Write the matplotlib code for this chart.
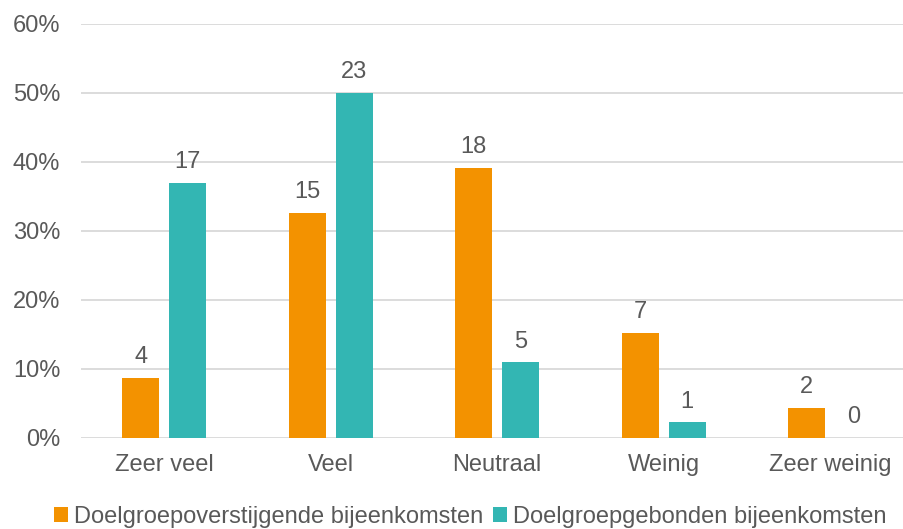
import numpy as np
import matplotlib.pyplot as plt
from matplotlib.ticker import PercentFormatter

plt.rcParams['font.family'] = ['Liberation Sans', 'DejaVu Sans']

# data
categories = ['Zeer veel', 'Veel', 'Neutraal', 'Weinig', 'Zeer weinig']
series_names = ['Doelgroepoverstijgende bijeenkomsten', 'Doelgroepgebonden bijeenkomsten']
pct_overstijgend = [8.7, 32.6, 39.1, 15.2, 4.3]
pct_gebonden = [37.0, 50.0, 10.9, 2.2, 0.0]
n_overstijgend = [4, 15, 18, 7, 2]
n_gebonden = [17, 23, 5, 1, 0]
yticks = [0, 10, 20, 30, 40, 50, 60]

orange = '#F39200'
teal = '#33B6B3'
text_col = '#595959'
grid_col = '#D9D9D9'

fig = plt.figure(figsize=(9.04, 5.29), dpi=100)
ax = fig.add_axes([81 / 904, 1 - 437.5 / 529, (904 - 81) / 904, (437.5 - 24) / 529])

x = np.arange(len(categories))
w = 0.222
off = 0.141
b1 = ax.bar(x - off, pct_overstijgend, w, color=orange, label=series_names[0], zorder=3)
b2 = ax.bar(x + off, pct_gebonden, w, color=teal, label=series_names[1], zorder=3)

for bars, counts in ((b1, n_overstijgend), (b2, n_gebonden)):
    for rect, n in zip(bars, counts):
        ax.annotate(str(n), (rect.get_x() + rect.get_width() / 2, rect.get_height()),
                    xytext=(0, 7), textcoords='offset points', ha='center', va='bottom',
                    fontsize=17, color=text_col)

ax.set_xlim(-0.5, -0.5 + (904 - 81) / 166.5)
ax.set_ylim(0, 60)
ax.set_yticks(yticks)
ax.yaxis.set_major_formatter(PercentFormatter(decimals=0))
ax.set_xticks(x)
ax.set_xticklabels(categories)
ax.tick_params(axis='both', length=0, labelsize=17, labelcolor=text_col)
ax.tick_params(axis='x', pad=12)
ax.tick_params(axis='y', pad=15)
ax.grid(axis='y', color=grid_col, linewidth=1.3, zorder=0)
for s in ax.spines.values():
    s.set_visible(False)

leg = fig.legend(handles=[b1, b2], loc='center', bbox_to_anchor=(470 / 904, 1 - 517 / 529),
                 ncol=2, frameon=False, fontsize=17, labelcolor=text_col,
                 handlelength=0.6, handleheight=0.6, handletextpad=0.25, columnspacing=0.4)

fig.savefig('out.png', dpi=100)
